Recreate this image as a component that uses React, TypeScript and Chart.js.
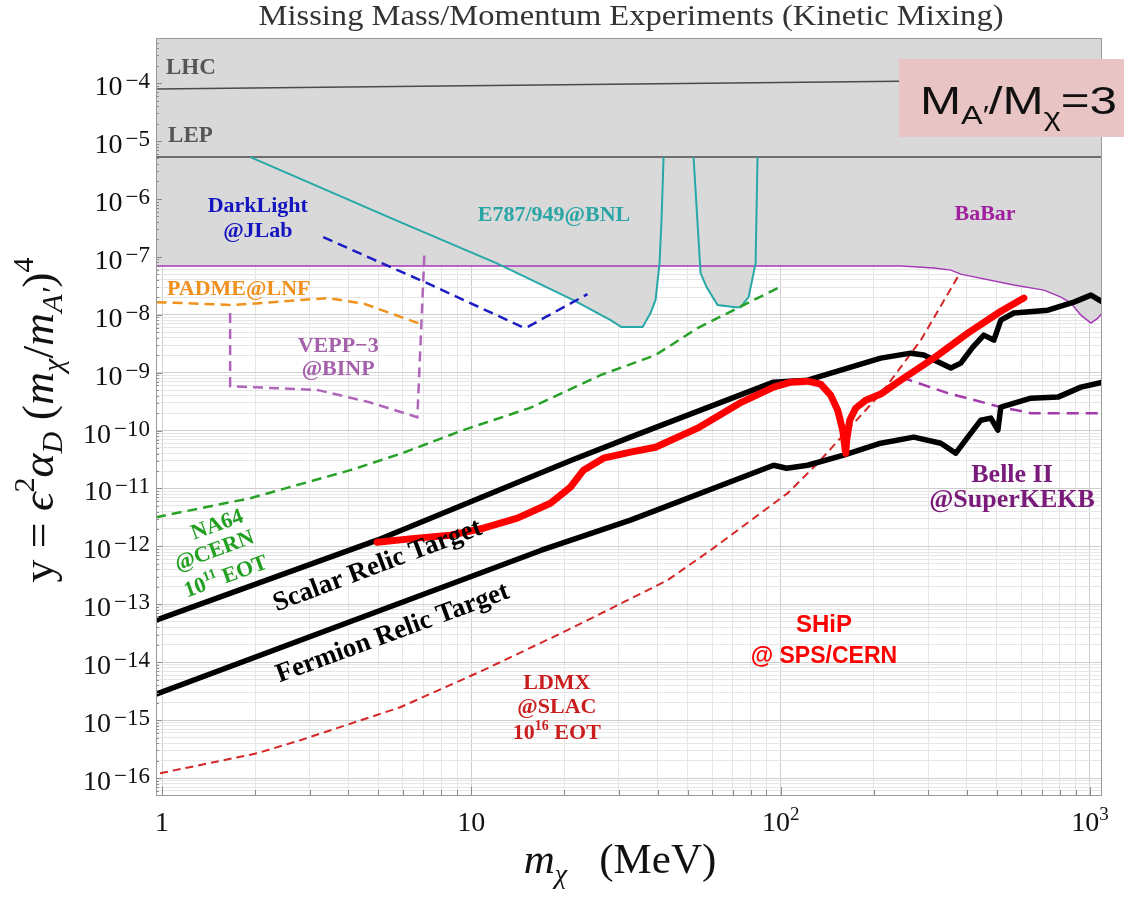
import React, { useEffect, useRef } from "react";
import { Chart, registerables } from "chart.js";

Chart.register(...registerables);

// ---------- axis ranges & ticks ----------
const X_MIN = 0.956;
const X_MAX = 1094;
const Y_MIN = 4.9e-17;
const Y_MAX = 6.0e-4;

const xTickValues = [1, 10, 100, 1000];
const xTickBase = ["1", "10", "10", "10"];
const xTickExp = ["", "", "2", "3"];
const yTickExponents = [-4, -5, -6, -7, -8, -9, -10, -11, -12, -13, -14, -15, -16];

// ---------- series (mass in MeV, y) ----------
const lhcMass = [0.95, 241, 1100];
const lhcY = [7.87e-5, 1.08e-4, 1.17e-4];

const lepMass = [0.95, 1100];
const lepY = [5.27e-6, 5.27e-6];

const babarMass = [0.95, 245, 313, 355, 382, 567, 710, 806, 868, 935, 1007, 1061, 1100];
const babarY = [6.91e-8, 6.91e-8, 6.38e-8, 5.89e-8, 5.02e-8, 3.25e-8, 2.66e-8, 2.01e-8, 1.59e-8, 9.85e-9, 7.16e-9, 8.73e-9, 1.11e-8];

const e787aMass = [1.93, 5.89, 12.05, 21.38, 28.2, 30.58, 35.77, 37.96, 39.4, 40.6, 41.2, 41.83];
const e787aY = [5.27e-6, 3.97e-7, 7.78e-8, 1.79e-8, 8.07e-9, 6.11e-9, 6.11e-9, 1.07e-8, 1.79e-8, 7.78e-8, 4.3e-7, 5.27e-6];

const e787bMass = [52.29, 55.1, 57.61, 62.54, 71.51, 74.22, 78.77, 83.0, 84.2];
const e787bY = [5.27e-6, 5.23e-8, 3.0e-8, 1.47e-8, 1.35e-8, 1.35e-8, 2.01e-8, 7.78e-8, 5.27e-6];

const darkLightMass = [3.32, 4.82, 7.2, 14.62, 15.18, 23.74];
const darkLightY = [2.19e-7, 9.0e-8, 3.51e-8, 6.11e-9, 6.11e-9, 2.27e-8];

const padmeMass = [0.96, 1.71, 3.42, 4.5, 5.35, 6.74];
const padmeY = [1.65e-8, 1.47e-8, 1.94e-8, 1.55e-8, 1.11e-8, 7.16e-9];

const veppMass = [1.66, 1.66, 3.2, 4.68, 6.69, 7.05];
const veppY = [1.07e-8, 5.85e-10, 4.99e-10, 3.09e-10, 1.7e-10, 1.1e-7];

const na64Mass = [0.956, 1.93, 4.06, 5.98, 9.42, 15.41, 26.15, 39.4, 53.88, 100.7];
const na64Y = [3.19e-12, 6.8e-12, 2.07e-11, 4.07e-11, 1.02e-10, 2.44e-10, 9.05e-10, 2.01e-9, 5.87e-9, 3.12e-8];

const ldmxMass = [0.985, 2.03, 2.8, 5.89, 10.94, 20.45, 43.1, 59.36, 86.1, 105.4, 131.8, 164.7, 215.4, 283.9, 376.8];
const ldmxY = [1.21e-16, 2.68e-16, 4.5e-16, 1.67e-15, 7.28e-15, 3.57e-14, 2.61e-13, 8.59e-13, 3.74e-12, 8.3e-12, 2.73e-11, 1.02e-10, 4.99e-10, 3.64e-9, 4.83e-8];

const scalarMass = [0.956, 4.96, 21.07, 32.69, 94.9, 122.3, 210.7, 263.5, 290.3, 355.0, 382.4, 418.2, 453.9, 489.0, 515.2, 567.5, 731.3, 887.6, 1007.5, 1100];
const scalarY = [5.31e-14, 1.28e-12, 3.08e-11, 7.69e-11, 6.85e-10, 7.42e-10, 1.78e-9, 2.17e-9, 2.01e-9, 1.2e-9, 1.46e-9, 2.75e-9, 4.44e-9, 3.64e-9, 8.07e-9, 1.07e-8, 1.2e-8, 1.65e-8, 2.18e-8, 1.65e-8];

const fermionMass = [0.956, 16.85, 32.69, 94.9, 104.6, 122.3, 159.9, 210.7, 269.4, 329.5, 368.5, 402.9, 443.9, 478.2, 503.9, 515.2, 644.4, 787.8, 935.2, 1100];
const fermionY = [2.8e-15, 8.59e-13, 2.84e-12, 2.52e-11, 2.24e-11, 2.52e-11, 3.76e-11, 6.05e-11, 7.69e-11, 6.05e-11, 4.07e-11, 7.69e-11, 1.51e-10, 1.64e-10, 1.02e-10, 2.54e-10, 3.63e-10, 3.78e-10, 5.62e-10, 6.85e-10];

const shipMass = [4.96, 6.69, 8.55, 10.94, 14.09, 18.02, 20.9, 23.04, 26.74, 32.69, 39.4, 53.88, 73.67, 94.9, 107.8, 122.3, 134.7, 145.1, 152.9, 158.7, 162.3, 163.5, 167.2, 174.9, 188.4, 210.7, 244.5, 312.7, 402.9, 515.2, 611.6];
const shipY = [1.18e-12, 1.39e-12, 1.56e-12, 2.06e-12, 3.07e-12, 5.57e-12, 1.05e-11, 2.07e-11, 3.34e-11, 4.24e-11, 5.16e-11, 1.1e-10, 2.97e-10, 5.62e-10, 6.85e-10, 7.13e-10, 6.33e-10, 4.09e-10, 2.25e-10, 1.02e-10, 4.07e-11, 6.83e-11, 1.51e-10, 2.44e-10, 3.35e-10, 4.26e-10, 7.42e-10, 1.78e-9, 4.81e-9, 1.15e-8, 1.94e-8];

const belleMass = [244.5, 347.1, 515.2, 644.4, 1100];
const belleY = [8.36e-10, 4.43e-10, 2.54e-10, 2.0e-10, 2.0e-10];

// ---------- styling ----------
const GRAY = "#d9d9d9";
const SERIF = '"Liberation Serif", "Times New Roman", "DejaVu Serif", serif';
const SANS = '"Liberation Sans", Arial, "DejaVu Sans", sans-serif';

function pts(xs: number[], ys: number[]) {
  return xs.map((x, i) => ({ x, y: ys[i] }));
}

type Seg = { t: string; size: number; italic?: boolean; bold?: boolean; dy?: number; family?: string };

function fontOf(s: Seg, fam: string) {
  return `${s.italic ? "italic " : ""}${s.bold ? "bold " : ""}${s.size}px ${s.family || fam}`;
}

function drawRich(
  ctx: CanvasRenderingContext2D,
  x: number,
  y: number,
  segs: Seg[],
  o: { align?: "left" | "center" | "right"; color: string; family: string; rotate?: number; fitWidth?: number; shift?: number }
) {
  ctx.save();
  ctx.translate(x, y);
  if (o.rotate) ctx.rotate((o.rotate * Math.PI) / 180);
  const widths = segs.map((s) => {
    ctx.font = fontOf(s, o.family);
    return ctx.measureText(s.t).width;
  });
  const total = widths.reduce((a, b) => a + b, 0);
  const sx = o.fitWidth ? o.fitWidth / total : 1;
  const shown = total * sx;
  const startX = o.align === "center" ? -shown / 2 : o.align === "right" ? -shown : 0;
  ctx.translate(startX, o.shift || 0);
  ctx.scale(sx, 1);
  let cx = 0;
  ctx.fillStyle = o.color;
  ctx.textAlign = "left";
  ctx.textBaseline = "alphabetic";
  segs.forEach((s, i) => {
    ctx.font = fontOf(s, o.family);
    ctx.fillText(s.t, cx, s.dy || 0);
    cx += widths[i];
  });
  ctx.restore();
}

function logTicks(min: number, max: number) {
  const out: { value: number; major: boolean }[] = [];
  for (let e = Math.floor(Math.log10(min)); e <= Math.ceil(Math.log10(max)); e++) {
    for (let k = 1; k <= 9; k++) {
      const v = k * Math.pow(10, e);
      if (v >= min && v <= max) out.push({ value: v, major: k === 1 });
    }
  }
  return out;
}

// labels anchored in data coordinates
type Label = {
  at: [number, number];
  segs: Seg[];
  color: string;
  align?: "left" | "center" | "right";
  rotate?: number;
  family?: string;
  shift?: number;
};
const B = (t: string, size: number, extra: Partial<Seg> = {}): Seg => ({ t, size, bold: true, ...extra });

const labels: Label[] = [
  { at: [1.03, 1.43e-4], segs: [B("LHC", 23)], color: "#555555", align: "left" },
  { at: [1.046, 9.58e-6], segs: [B("LEP", 23)], color: "#555555", align: "left" },
  { at: [2.04, 5.93e-7], segs: [B("DarkLight", 22)], color: "#1515c0" },
  { at: [2.04, 2.19e-7], segs: [B("@JLab", 22)], color: "#1515c0" },
  { at: [18.5, 4.14e-7], segs: [B("E787/949@BNL", 22)], color: "#2aa5a5" },
  { at: [458, 4.31e-7], segs: [B("BaBar", 22)], color: "#a020a0" },
  { at: [1.77, 2.19e-8], segs: [B("PADME@LNF", 22)], color: "#f0901e" },
  { at: [3.71, 2.27e-9], segs: [B("VEPP\u22123", 22)], color: "#a460aa" },
  { at: [3.71, 9.1e-10], segs: [B("@BINP", 22)], color: "#a460aa" },
  { at: [1.5, 2.53e-12], segs: [B("NA64", 22)], color: "#22a022", rotate: -20, shift: 8 },
  { at: [1.47, 9.0e-13], segs: [B("@CERN", 22)], color: "#22a022", rotate: -20, shift: 8 },
  { at: [1.6, 3.2e-13], segs: [B("10", 22), B("11", 14, { dy: -9 }), B(" EOT", 22)], color: "#22a022", rotate: -20, shift: 8 },
  { at: [5.07, 3.54e-13], segs: [B("Scalar Relic Target", 27)], color: "#000000", rotate: -20.6 },
  { at: [5.67, 2.42e-14], segs: [B("Fermion Relic Target", 27)], color: "#000000", rotate: -20.2 },
  { at: [18.9, 3.44e-15], segs: [B("LDMX", 22)], color: "#c81e1e" },
  { at: [18.9, 1.33e-15], segs: [B("@SLAC", 22)], color: "#c81e1e" },
  { at: [18.9, 4.72e-16], segs: [B("10", 22), B("16", 14, { dy: -9 }), B(" EOT", 22)], color: "#c81e1e" },
  { at: [138, 3.32e-14], segs: [B("SHiP", 24)], color: "#ff0000", family: SANS },
  { at: [138, 9.68e-15], segs: [B("@ SPS/CERN", 23)], color: "#ff0000", family: SANS },
  { at: [560, 1.29e-11], segs: [B("Belle II", 26)], color: "#7a1a7a" },
  { at: [560, 4.79e-12], segs: [B("@SuperKEKB", 26)], color: "#7a1a7a" },
];

const overlayPlugin = {
  id: "overlay",
  afterDraw(chart: any) {
    const { ctx, chartArea: a, scales } = chart;
    const xs = scales.x;
    const ys = scales.y;
    ctx.save();

    // inner tick marks
    ctx.strokeStyle = "#8a8a8a";
    ctx.lineWidth = 1;
    logTicks(X_MIN, X_MAX).forEach((t) => {
      const px = Math.round(xs.getPixelForValue(t.value)) + 0.5;
      ctx.beginPath();
      ctx.moveTo(px, a.bottom);
      ctx.lineTo(px, a.bottom - (t.major ? 9 : 6));
      ctx.stroke();
    });
    logTicks(Y_MIN, Y_MAX).forEach((t) => {
      const py = Math.round(ys.getPixelForValue(t.value)) + 0.5;
      ctx.beginPath();
      ctx.moveTo(a.left, py);
      ctx.lineTo(a.left + (t.major ? 6 : 3), py);
      ctx.stroke();
    });

    // frame
    ctx.strokeStyle = "#9a9a9a";
    ctx.strokeRect(a.left + 0.5, a.top + 0.5, a.right - a.left - 1, a.bottom - a.top - 1);

    // labels in plot
    labels.forEach((l) => {
      const px = xs.getPixelForValue(l.at[0]);
      const py = ys.getPixelForValue(l.at[1]);
      drawRich(ctx, px, py, l.segs, {
        align: l.align || "center",
        color: l.color,
        family: l.family || SERIF,
        rotate: l.rotate,
        shift: l.shift,
      });
    });

    // y tick labels: "10" followed by a superscript exponent
    yTickExponents.forEach((e) => {
      const py = ys.getPixelForValue(Math.pow(10, e));
      const sup: Seg[] = [{ t: "\u2212" + String(-e), size: 23 }];
      ctx.font = `23px ${SERIF}`;
      const wSup = ctx.measureText(sup[0].t).width;
      const right = a.left - 6;
      const baseRight = right - wSup - 3;
      drawRich(ctx, baseRight, py + 12, [{ t: "10", size: 28 }], { align: "right", color: "#111", family: SERIF });
      drawRich(ctx, baseRight + 3, py + 5, sup, { align: "left", color: "#111", family: SERIF });
    });

    // x tick labels
    xTickValues.forEach((v, i) => {
      const px = xs.getPixelForValue(v);
      const segs: Seg[] = [{ t: xTickBase[i], size: 28 }];
      if (xTickExp[i]) segs.push({ t: xTickExp[i], size: 19, dy: -11 });
      drawRich(ctx, px, a.bottom + 35, segs, { align: "center", color: "#111", family: SERIF });
    });

    // title
    drawRich(ctx, 631, 25, [{ t: "Missing Mass/Momentum Experiments (Kinetic Mixing)", size: 30 }], {
      align: "center",
      color: "#333333",
      family: SERIF,
      fitWidth: 745,
    });

    // x axis title
    drawRich(
      ctx,
      620,
      873,
      [
        { t: "m", size: 43, italic: true },
        { t: "\u03c7", size: 28, italic: true, dy: 10 },
        { t: "   (MeV)", size: 43 },
      ],
      { align: "center", color: "#111", family: SERIF }
    );

    // y axis title (rotated)
    drawRich(
      ctx,
      53,
      420,
      [
        { t: "y = ", size: 44 },
        { t: "\u03f5", size: 44, italic: true },
        { t: "2", size: 29, dy: -19 },
        { t: "\u03b1", size: 44, italic: true },
        { t: "D", size: 29, italic: true, dy: 9 },
        { t: " (", size: 44 },
        { t: "m", size: 44, italic: true },
        { t: "\u03c7", size: 29, italic: true, dy: 10 },
        { t: "/", size: 44 },
        { t: "m", size: 44, italic: true },
        { t: "A\u2032", size: 29, italic: true, dy: 9 },
        { t: ")", size: 44 },
        { t: "4", size: 29, dy: -20 },
      ],
      { align: "center", color: "#111", family: SERIF, rotate: -90, fitWidth: 325 }
    );

    // ratio box
    ctx.fillStyle = "#e8c4c4";
    ctx.fillRect(899, 59, 1124 - 899, 78);
    drawRich(
      ctx,
      920,
      114,
      [
        { t: "M", size: 38 },
        { t: "A\u2032", size: 25, dy: 10 },
        { t: "/M", size: 38 },
        { t: "\u03c7", size: 25, dy: 12 },
        { t: "=3", size: 38 },
      ],
      { align: "left", color: "#111", family: SANS, fitWidth: 197 }
    );

    ctx.restore();
  },
};

export default function App() {
  const ref = useRef<HTMLCanvasElement | null>(null);

  useEffect(() => {
    if (!ref.current) return;
    const common = { pointRadius: 0, tension: 0, fill: false, clip: 0, spanGaps: false };
    const dashed = (label: string, xs: number[], ys: number[], color: string, dash: number[], width = 2.5) => ({
      ...common,
      label,
      data: pts(xs, ys),
      borderColor: color,
      borderWidth: width,
      borderDash: dash,
      order: 2,
    });

    const chart = new Chart(ref.current, {
      type: "line",
      data: {
        datasets: [
          { ...common, label: "SHiP", data: pts(shipMass, shipY), borderColor: "#ff0000", borderWidth: 7, borderCapStyle: "round", borderJoinStyle: "round", order: 0 },
          { ...common, label: "Scalar Relic Target", data: pts(scalarMass, scalarY), borderColor: "#000000", borderWidth: 5.5, borderJoinStyle: "round", order: 1 },
          { ...common, label: "Fermion Relic Target", data: pts(fermionMass, fermionY), borderColor: "#000000", borderWidth: 5.5, borderJoinStyle: "round", order: 1 },
          dashed("LDMX", ldmxMass, ldmxY, "#d42626", [8, 5], 2),
          dashed("Belle II", belleMass, belleY, "#a23aaa", [12, 7], 2.5),
          dashed("NA64", na64Mass, na64Y, "#27a127", [10, 6], 2.5),
          dashed("DarkLight", darkLightMass, darkLightY, "#1c1cc4", [10, 6], 2.5),
          dashed("PADME", padmeMass, padmeY, "#f0921e", [10, 6], 2.5),
          dashed("VEPP-3", veppMass, veppY, "#b066b8", [10, 6], 2.5),
          { ...common, label: "E787/949 a", data: pts(e787aMass, e787aY), borderColor: "#27a8a8", borderWidth: 2, fill: "end", backgroundColor: GRAY, order: 3 },
          { ...common, label: "E787/949 b", data: pts(e787bMass, e787bY), borderColor: "#27a8a8", borderWidth: 2, fill: "end", backgroundColor: GRAY, order: 3 },
          { ...common, label: "BaBar", data: pts(babarMass, babarY), borderColor: "#a638b8", borderWidth: 1.5, fill: "end", backgroundColor: GRAY, order: 3 },
          { ...common, label: "LEP", data: pts(lepMass, lepY), borderColor: "#4a4a4a", borderWidth: 1.5, order: 4 },
          { ...common, label: "LHC", data: pts(lhcMass, lhcY), borderColor: "#4a4a4a", borderWidth: 1.5, order: 4 },
        ] as any,
      },
      options: {
        responsive: true,
        maintainAspectRatio: false,
        animation: false,
        events: [],
        layout: { padding: { left: 156, top: 38, right: 22, bottom: 102 } },
        plugins: {
          legend: { display: false },
          tooltip: { enabled: false },
          title: { display: false },
          filler: { drawTime: "beforeDatasetsDraw" },
        } as any,
        scales: {
          x: {
            type: "logarithmic",
            min: X_MIN,
            max: X_MAX,
            afterBuildTicks: (s: any) => {
              s.ticks = logTicks(X_MIN, X_MAX);
            },
            afterFit: (s: any) => {
              s.height = 0;
            },
            ticks: { display: false, autoSkip: false },
            border: { display: false },
            grid: {
              drawTicks: false,
              lineWidth: 1,
              color: (c: any) => (c.tick && c.tick.major ? "#cfcfcf" : "#e6e6e6"),
            },
          },
          y: {
            type: "logarithmic",
            min: Y_MIN,
            max: Y_MAX,
            afterBuildTicks: (s: any) => {
              s.ticks = logTicks(Y_MIN, Y_MAX);
            },
            afterFit: (s: any) => {
              s.width = 0;
            },
            ticks: { display: false, autoSkip: false },
            border: { display: false },
            grid: {
              drawTicks: false,
              lineWidth: 1,
              color: (c: any) => (c.tick && c.tick.major ? "#cfcfcf" : "#e6e6e6"),
            },
          },
        },
      } as any,
      plugins: [overlayPlugin],
    });
    return () => chart.destroy();
  }, []);

  return (
    <div style={{ position: "fixed", left: 0, top: 0, width: 1124, height: 898, background: "#ffffff" }}>
      <canvas ref={ref} />
    </div>
  );
}
